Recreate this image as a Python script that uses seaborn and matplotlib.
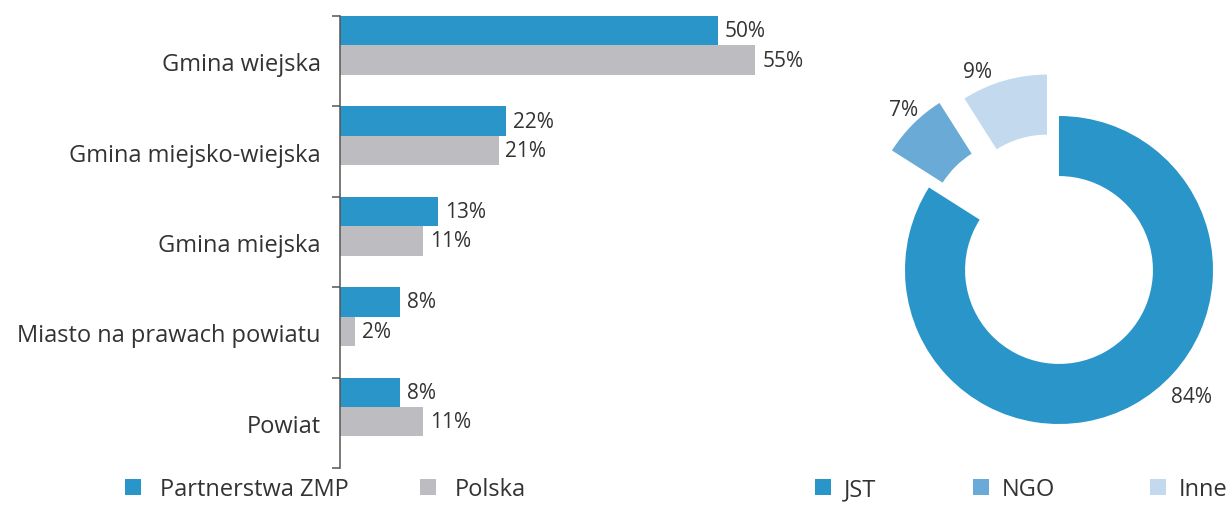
import numpy as np
import pandas as pd
import matplotlib
matplotlib.use("Agg")
import matplotlib.pyplot as plt
from matplotlib.lines import Line2D
import seaborn as sns

# --------------------------
# Data
# --------------------------
categories = ["Gmina wiejska", "Gmina miejsko-wiejska", "Gmina miejska",
              "Miasto na prawach powiatu", "Powiat"]
zmp_values = [50, 22, 13, 8, 8]
polska_values = [55, 21, 11, 2, 11]
series_names = ["Partnerstwa ZMP", "Polska"]

donut_labels = ["JST", "NGO", "Inne"]
donut_values = [84, 7, 9]

# --------------------------
# Style
# --------------------------
BLUE = "#2995c9"
GREY = "#bdbdc1"
donut_colors = [BLUE, "#6aaad6", "#c2d9ee"]
TEXT = "#333333"

sns.set_theme(style="white")
plt.rcParams["font.family"] = ["Open Sans", "DejaVu Sans"]

df = pd.DataFrame({
    "category": categories * 2,
    "value": zmp_values + polska_values,
    "series": [series_names[0]] * len(categories) + [series_names[1]] * len(categories),
})

fig = plt.figure(figsize=(12.27, 5.06), dpi=100)

# --------------------------
# Bar chart
# --------------------------
ax = fig.add_axes([340 / 1227, 37 / 506, 453 / 1227, 452 / 506])
sns.barplot(data=df, y="category", x="value", hue="series", orient="h",
            palette=[BLUE, GREY], width=0.65, linewidth=0, saturation=1,
            legend=False, ax=ax)

for cont in ax.containers:
    ax.bar_label(cont, fmt="{:.0f}%", padding=5, fontsize=15, color=TEXT)

n = len(categories)
ax.set_xlim(0, 60)
ax.set_ylim(n - 0.325, -0.325)
ax.set_yticks(np.arange(n) + 0.175, labels=categories)
ax.set_yticks(np.arange(n + 1) - 0.325, minor=True)
ax.tick_params(axis="y", which="major", length=0, pad=14, labelsize=17, labelcolor=TEXT)
ax.tick_params(axis="y", which="minor", left=True, length=6, width=1.1, color="#555555")
ax.set_xticks([])
ax.set_xlabel("")
ax.set_ylabel("")
for side in ["top", "right", "bottom"]:
    ax.spines[side].set_visible(False)
ax.spines["left"].set_color("#555555")
ax.spines["left"].set_linewidth(1.1)

# --------------------------
# Donut
# --------------------------
ax2 = fig.add_axes([828 / 1227, 4 / 506, 462 / 1227, 462 / 506])
ax2.pie(donut_values, colors=donut_colors, startangle=90, counterclock=False,
        explode=[0, 0.34, 0.28], wedgeprops=dict(width=0.39, linewidth=0))
ax2.set_xlim(-1.5, 1.5)
ax2.set_ylim(-1.5, 1.5)
ax2.set_aspect("equal")
label_pos = [(0.86, -0.82), (-1.01, 1.04), (-0.53, 1.29)]
for val, (x, y) in zip(donut_values, label_pos):
    ax2.text(x, y, f"{val}%", ha="center", va="center", fontsize=15, color=TEXT)

# --------------------------
# Legends
# --------------------------
def square(c):
    return Line2D([], [], marker="s", linestyle="none", markersize=11,
                  markerfacecolor=c, markeredgewidth=0)

fig.legend([square(BLUE), square(GREY)], series_names, loc="center left",
           bbox_to_anchor=(121 / 1227, 16 / 506), ncol=2, frameon=False,
           fontsize=17, labelcolor=TEXT, handlelength=1, handletextpad=0.65,
           columnspacing=2.85, borderpad=0, borderaxespad=0)

# donut legend: one entry each, placed along the bottom row
donut_leg_x = [811, 969, 1146]
for lab, col, lx in zip(donut_labels, donut_colors, donut_leg_x):
    fig.legend([square(col)], [lab], loc="center left",
               bbox_to_anchor=(lx / 1227, 16 / 506), frameon=False,
               fontsize=17, labelcolor=TEXT, handlelength=1, handletextpad=0.4,
               borderpad=0, borderaxespad=0)

fig.savefig("out.png", dpi=100)
